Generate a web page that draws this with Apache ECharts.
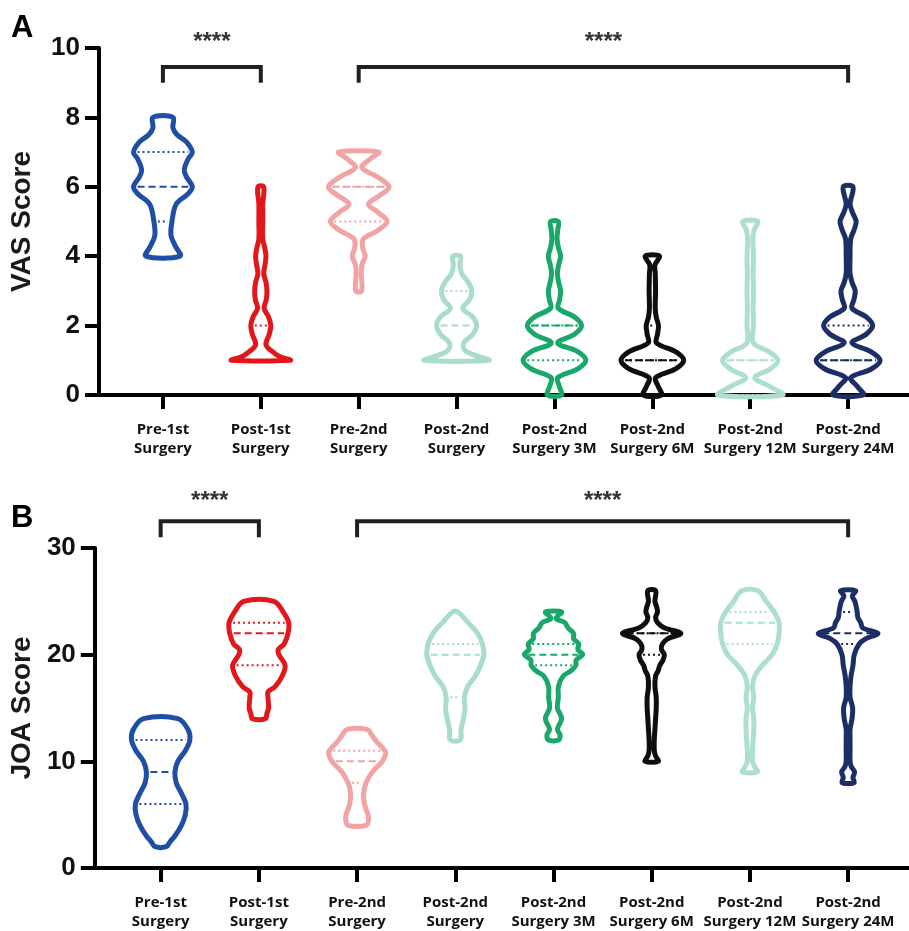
<!DOCTYPE html>
<html><head><meta charset="utf-8">
<script src="https://cdn.jsdelivr.net/npm/echarts@6/dist/echarts.min.js"></script>
<style>html,body{margin:0;padding:0;background:#fff}#c{width:909px;height:931px}</style>
</head><body><div id="c"></div>
<script>
// ---------- data ----------
const categories = ['Pre-1st\nSurgery','Post-1st\nSurgery','Pre-2nd\nSurgery','Post-2nd\nSurgery',
  'Post-2nd\nSurgery 3M','Post-2nd\nSurgery 6M','Post-2nd\nSurgery 12M','Post-2nd\nSurgery 24M'];
const violinColors = ['#1f4ea6','#e2171c','#f2a3a3','#a9dcca','#19a86a','#0e0e0e','#addfce','#1c2e66'];

// violin outlines: [score, relative density] (density 1 = widest violin)
const vasDensity = [
  [[4,.53],[4.3,.38],[4.6,.25],[5,.28],[5.5,.41],[5.8,.78],[6,.91],[6.3,.72],[6.5,.66],[6.8,.78],[7,.91],[7.3,.72],[7.5,.44],[7.7,.31],[8,.31]],
  [[1,.91],[1.1,.6],[1.25,.36],[1.45,.16],[1.75,.26],[2,.31],[2.25,.24],[2.5,.1],[2.75,.17],[3,.19],[3.25,.16],[3.5,.09],[3.75,.13],[4,.16],[4.25,.12],[4.5,.06],[5,.06],[5.5,.06],[6,.09]],
  [[3,.09],[3.5,.08],[3.75,.1],[4,.2],[4.25,.12],[4.5,.15],[4.75,.6],[5,.88],[5.25,.62],[5.5,.3],[5.75,.65],[6,.94],[6.3,.55],[6.55,.1],[6.8,.35],[7,.62]],
  [[1,1.0],[1.15,.55],[1.3,.25],[1.5,.22],[1.75,.5],[2,.62],[2.25,.5],[2.5,.19],[2.75,.4],[3,.47],[3.25,.36],[3.5,.16],[3.75,.1],[4,.12]],
  [[0,.22],[0.25,.15],[0.5,.1],[0.75,.72],[1,.97],[1.25,.72],[1.5,.1],[1.75,.62],[2,.84],[2.25,.62],[2.5,.12],[2.75,.16],[3,.19],[3.25,.13],[3.5,.09],[3.75,.13],[4,.19],[4.25,.12],[4.5,.08],[4.75,.1],[5,.12]],
  [[0,.28],[0.25,.18],[0.5,.1],[0.75,.72],[1,.97],[1.25,.72],[1.5,.13],[1.75,.16],[2,.19],[2.25,.12],[2.5,.09],[3,.1],[3.5,.09],[3.75,.08],[4,.22]],
  [[0,1.0],[0.25,.6],[0.5,.14],[0.75,.62],[1,.86],[1.25,.58],[1.5,.1],[2,.1],[2.5,.09],[3,.1],[3.5,.09],[4,.1],[4.5,.08],[4.75,.12],[5,.23]],
  [[0,.47],[0.25,.28],[0.5,.08],[0.75,.72],[1,.99],[1.25,.7],[1.5,.12],[1.75,.56],[2,.76],[2.25,.56],[2.5,.12],[2.75,.18],[3,.22],[3.25,.12],[3.5,.06],[4,.06],[4.5,.08],[4.75,.18],[5,.25],[5.25,.14],[5.5,.06],[6,.15]]
];
// [Q1, median, Q3]
const vasQuartiles = [[5,6,7],[1,1,2],[5,6,6],[1,2,3],[1,2,2],[1,1,2],[0,1,1],[1,1,2]];

const joaDensity = [
  [[2,.17],[2.5,.3],[3,.44],[4,.64],[5,.76],[6,.78],[7,.64],[8,.48],[9,.44],[10,.53],[11,.76],[12,.9],[13,.84],[14,.53]],
  [[14,.2],[14.5,.25],[15,.3],[16,.28],[16.5,.28],[17,.5],[18,.72],[19,.81],[20,.62],[20.5,.6],[21,.78],[22,.9],[23,.92],[24,.75],[25,.47]],
  [[4,.28],[4.5,.35],[5,.34],[5.5,.28],[6,.23],[7,.2],[8,.28],[9,.47],[10,.78],[10.7,.88],[11,.86],[12,.56],[12.5,.45],[13,.31]],
  [[12,.15],[13,.18],[14,.25],[15,.3],[16,.28],[17,.38],[18,.62],[19,.78],[20,.88],[21,.84],[22,.69],[23,.4],[24,.08]],
  [[12,.16],[12.5,.2],[13,.12],[14,.25],[15,.12],[16,.15],[17,.15],[18,.3],[18.5,.55],[19,.69],[19.5,.7],[20,.9],[20.5,.75],[21,.78],[21.5,.62],[22,.62],[22.5,.45],[23,.35],[23.4,.08],[24,.25]],
  [[10,.2],[10.5,.12],[11,.08],[12,.08],[13,.1],[14,.12],[15,.14],[16,.14],[17,.1],[18,.12],[18.5,.2],[19,.25],[19.5,.35],[20,.39],[20.5,.3],[21,.33],[21.5,.5],[22,.9],[22.5,.4],[23,.18],[23.5,.12],[24,.18],[24.5,.15],[25,.1],[26,.12]],
  [[9,.23],[9.5,.15],[10,.08],[11,.08],[12,.1],[13,.12],[14,.12],[15,.08],[16,.12],[17,.08],[18,.15],[19,.38],[20,.69],[21,.84],[22,.9],[23,.9],[24,.75],[25,.5],[26,.25]],
  [[8,.18],[8.5,.15],[9,.2],[9.5,.1],[10,.06],[11,.06],[12,.06],[13,.06],[14,.12],[15,.14],[16,.06],[17,.06],[18,.09],[19,.15],[20,.19],[21,.34],[21.5,.55],[22,.92],[22.5,.45],[23,.39],[23.5,.3],[24,.28],[24.5,.25],[25,.21],[25.5,.13],[26,.23]]
];
const joaQuartiles = [[6,9,12],[19,22,23],[8,10,11],[16,20,21],[19,20,21],[20,22,22],[21,23,24],[21,22,24]];

const vasTicks = [0, 10, 2];
const joaTicks = [0, 30, 10];
const sigPairs = [[0,1],[2,7]];
const sigLabel = '****';
const vasBracket = [9.45, 9.0, 10.15];   // bar level, leg end, star level
const joaBracket = [32.5, 31.0, 34.4];

// ---------- rendering ----------
const HALF = 0.33; // max half-width in category units
const chart = echarts.init(document.getElementById('c'), null, {renderer:'canvas'});

function densityAt(prof, v) {
  for (let k = 0; k < prof.length - 1; k++) {
    const a = prof[k], b = prof[k+1];
    if (v >= a[0] && v <= b[0]) {
      const t = (v - a[0]) / (b[0] - a[0] || 1);
      return a[1] + t * (b[1] - a[1]);
    }
  }
  return v <= prof[0][0] ? prof[0][1] : prof[prof.length-1][1];
}

function violinRender(profiles, quartiles) {
  return function (params, api) {
    const i = api.value(0);
    const prof = profiles[i];
    const color = violinColors[i];
    const right = prof.map(p => api.coord([i + p[1]*HALF, p[0]]));
    const left = prof.slice().reverse().map(p => api.coord([i - p[1]*HALF, p[0]]));
    const children = [{
      type: 'polygon',
      shape: {points: right.concat(left), smooth: 0.35},
      style: {fill: null, stroke: color, lineWidth: 5, lineJoin: 'round'}
    }];
    const q = quartiles[i];
    [[q[0],'dot'],[q[2],'dot'],[q[1],'dash']].forEach(([v, kind]) => {
      const d = densityAt(prof, v) * HALF;
      const l = api.coord([i - d, v]), r = api.coord([i + d, v]);
      if (r[0] - l[0] < 10) return;
      children.push({
        type: 'line',
        shape: {x1: l[0] + 4, y1: l[1], x2: r[0] - 4, y2: r[1]},
        style: {stroke: color, lineWidth: 2, lineDash: kind === 'dash' ? [7,4] : [2,3]}
      });
    });
    return {type: 'group', children};
  };
}

function bracketRender(levels) {
  return function (params, api) {
    const a = api.value(0), b = api.value(1);
    const p1 = api.coord([a, levels[1]]), p2 = api.coord([a, levels[0]]);
    const p3 = api.coord([b, levels[0]]), p4 = api.coord([b, levels[1]]);
    const t = api.coord([(a+b)/2, levels[2]]);
    return {type:'group', children:[
      {type:'polyline', shape:{points:[p1,p2,p3,p4]}, style:{stroke:'#231f20', lineWidth:4, fill:null}},
      {type:'text', x:t[0], y:t[1], style:{text:sigLabel, fill:'#333', font:'bold 24px "Liberation Sans", Arial', align:'center', verticalAlign:'middle'}}
    ]};
  };
}

const idx = categories.map((c, i) => [i]);
const catIdx = categories.map((c, i) => i);

function xAxis(gridIndex, min, max) {
  return {
    type: 'value', gridIndex, min, max,
    splitLine: {show:false},
    axisLine: {show:true, onZero:false, lineStyle:{color:'#000', width:4}},
    axisTick: {show:true, customValues: catIdx, length: 14, inside:false, lineStyle:{color:'#000', width:4}},
    axisLabel: {customValues: catIdx, formatter: v => categories[Math.round(v)] || '',
      margin: 25, color:'#111', fontFamily:'"Open Sans", "Noto Sans", sans-serif', fontWeight:'bold', fontSize:15, lineHeight:19}
  };
}
function yAxis(gridIndex, t, name, gap) {
  return {
    type: 'value', gridIndex, min: t[0], max: t[1], interval: t[2],
    name, nameLocation:'middle', nameGap: gap,
    nameTextStyle: {fontFamily:'"Liberation Sans", Arial', fontWeight:'bold', fontSize:28, color:'#1a1a1a'},
    splitLine: {show:false},
    axisLine: {show:true, onZero:false, lineStyle:{color:'#000', width:4}},
    axisTick: {show:true, length:14, inside:false, lineStyle:{color:'#000', width:4}},
    axisLabel: {margin: 19, color:'#111', fontFamily:'"Liberation Sans", Arial', fontWeight:'bold', fontSize:26}
  };
}

chart.setOption({
  animation: false,
  backgroundColor: '#fff',
  grid: [
    {left: 98, top: 48, width: 811, height: 347},
    {left: 93, top: 548, width: 816, height: 321}
  ],
  xAxis: [xAxis(0, -0.653, 7.622), xAxis(1, -0.6705, 7.62)],
  yAxis: [yAxis(0, vasTicks, 'VAS Score', 63), yAxis(1, joaTicks, 'JOA Score', 58)],
  graphic: [
    {type:'text', left: 11, top: 13, style:{text:'A', font:'bold 31px "Liberation Sans", Arial', fill:'#000'}},
    {type:'text', left: 11, top: 503, style:{text:'B', font:'bold 31px "Liberation Sans", Arial', fill:'#000'}}
  ],
  series: [
    {type:'custom', xAxisIndex:0, yAxisIndex:0, clip:false, data: idx, renderItem: violinRender(vasDensity, vasQuartiles)},
    {type:'custom', xAxisIndex:1, yAxisIndex:1, clip:false, data: idx, renderItem: violinRender(joaDensity, joaQuartiles)},
    {type:'custom', xAxisIndex:0, yAxisIndex:0, clip:false, data: sigPairs, renderItem: bracketRender(vasBracket)},
    {type:'custom', xAxisIndex:1, yAxisIndex:1, clip:false, data: sigPairs, renderItem: bracketRender(joaBracket)}
  ]
});
</script>
</body></html>
